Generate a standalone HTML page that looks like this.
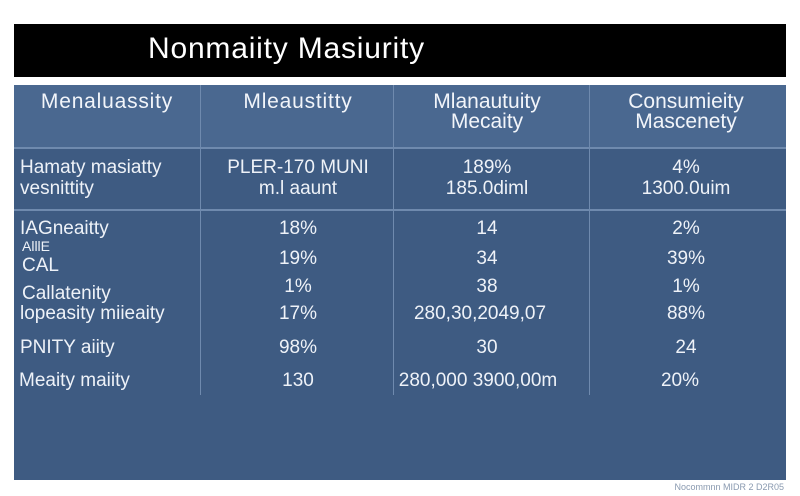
<!DOCTYPE html>
<html><head><meta charset="utf-8"><style>
body{margin:0;width:800px;height:496px;background:#fff;position:relative;overflow:hidden;font-family:"Liberation Sans",sans-serif;}
.abs{position:absolute;}
#title-bar{left:14px;top:24px;width:772px;height:53px;background:#000;}
#title{left:148px;top:32px;color:#fff;font-size:30px;letter-spacing:0.8px;}
#panel{left:14px;top:85px;width:772px;height:395px;background:#3e5b82;}
#head{left:14px;top:85px;width:772px;height:63px;background:#4a6890;}
.hl{height:2px;background:#6f8aae;left:14px;width:772px;}
.vl{width:1px;background:#6f8aae;top:85px;height:310px;}
.t{color:#eef2f8;font-size:19px;white-space:nowrap;line-height:21px;}
.c{text-align:center;transform:translateX(-50%);}
.h{font-size:21px;color:#f2f5fa;line-height:20px;}
#foot{right:16px;top:482px;font-size:9px;color:#8a9ab0;}
</style></head><body>
<div class="abs" id="title-bar"></div>
<div class="abs" id="title">Nonmaiity Masiurity</div>
<div class="abs" id="panel"></div>
<div class="abs" id="head"></div>
<div class="abs hl" style="top:147px"></div>
<div class="abs hl" style="top:209px"></div>
<div class="abs vl" style="left:200px"></div>
<div class="abs vl" style="left:393px"></div>
<div class="abs vl" style="left:589px"></div>

<div class="abs t h c" style="left:107px;top:92px;letter-spacing:0.8px">Menaluassity</div>
<div class="abs t h c" style="left:298px;top:92px;letter-spacing:0.8px">Mleaustitty</div>
<div class="abs t h c" style="left:487px;top:92px;text-align:center">Mlanautuity<br>Mecaity</div>
<div class="abs t h c" style="left:686px;top:92px;text-align:center">Consumieity<br>Mascenety</div>

<div class="abs t" style="left:20px;top:157px">Hamaty masiatty<br>vesnittity</div>
<div class="abs t c" style="left:298px;top:157px;text-align:center">PLER-170 MUNI<br>m.l aaunt</div>
<div class="abs t c" style="left:487px;top:157px;text-align:center">189%<br>185.0diml</div>
<div class="abs t c" style="left:686px;top:157px;text-align:center">4%<br>1300.0uim</div>

<div class="abs t" style="left:20px;top:218px">IAGneaitty</div>
<div class="abs t" style="left:22px;top:236px;font-size:14px">AlllE</div>
<div class="abs t" style="left:22px;top:255px">CAL</div>
<div class="abs t" style="left:22px;top:283px">Callatenity</div>
<div class="abs t" style="left:20px;top:303px">lopeasity miieaity</div>
<div class="abs t" style="left:20px;top:337px">PNITY aiity</div>
<div class="abs t" style="left:19px;top:370px">Meaity maiity</div>

<div class="abs t c" style="left:298px;top:218px">18%</div>
<div class="abs t c" style="left:298px;top:248px">19%</div>
<div class="abs t c" style="left:298px;top:276px">1%</div>
<div class="abs t c" style="left:298px;top:303px">17%</div>
<div class="abs t c" style="left:298px;top:337px">98%</div>
<div class="abs t c" style="left:298px;top:370px">130</div>

<div class="abs t c" style="left:487px;top:218px">14</div>
<div class="abs t c" style="left:487px;top:248px">34</div>
<div class="abs t c" style="left:487px;top:276px">38</div>
<div class="abs t c" style="left:480px;top:303px">280,30,2049,07</div>
<div class="abs t c" style="left:487px;top:337px">30</div>
<div class="abs t c" style="left:478px;top:370px">280,000 3900,00m</div>

<div class="abs t c" style="left:686px;top:218px">2%</div>
<div class="abs t c" style="left:686px;top:248px">39%</div>
<div class="abs t c" style="left:686px;top:276px">1%</div>
<div class="abs t c" style="left:686px;top:303px">88%</div>
<div class="abs t c" style="left:686px;top:337px">24</div>
<div class="abs t c" style="left:680px;top:370px">20%</div>

<div class="abs" id="foot">Nocommnn MIDR 2 D2R05</div>
</body></html>
